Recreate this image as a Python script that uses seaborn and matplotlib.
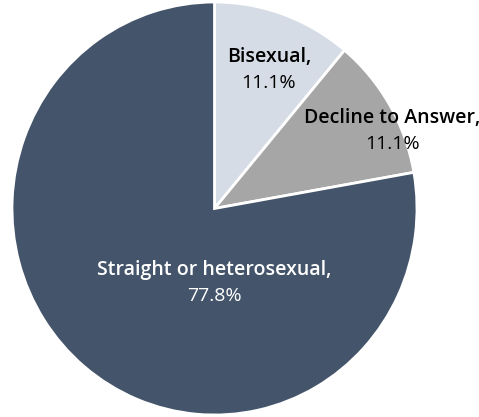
import matplotlib.pyplot as plt
import seaborn as sns

# data
categories = ["Bisexual", "Decline to Answer", "Straight or heterosexual"]
shares = [11.1, 11.1, 77.8]
colors = ["#D6DCE5", "#A6A6A6", "#44546A"]
text_colors = ["black", "black", "white"]
label_pos = [(0.269, 0.673), (0.877, 0.373), (0.0, -0.363)]

sns.set_style("white")
plt.rcParams['font.family'] = ['Open Sans', 'DejaVu Sans']

fig = plt.figure(figsize=(4.79, 4.17), dpi=100)
ax = fig.add_axes([12 / 479, 2 / 417, 405 / 479, 413 / 417])
ax.pie(shares, colors=colors, startangle=90, counterclock=False,
       wedgeprops=dict(edgecolor="white", linewidth=2))
ax.set_xlim(-1, 1)
ax.set_ylim(-1, 1)
ax.set_aspect("auto")
ax.axis("off")

for cat, val, (x, y), tc in zip(categories, shares, label_pos, text_colors):
    ax.text(x, y + 0.063, f"{cat},", ha="center", va="center",
            fontsize=14, color=tc, fontweight="semibold")
    ax.text(x, y - 0.063, f"{val:.1f}%", ha="center", va="center",
            fontsize=14, color=tc)

fig.savefig("out.png", dpi=100)
